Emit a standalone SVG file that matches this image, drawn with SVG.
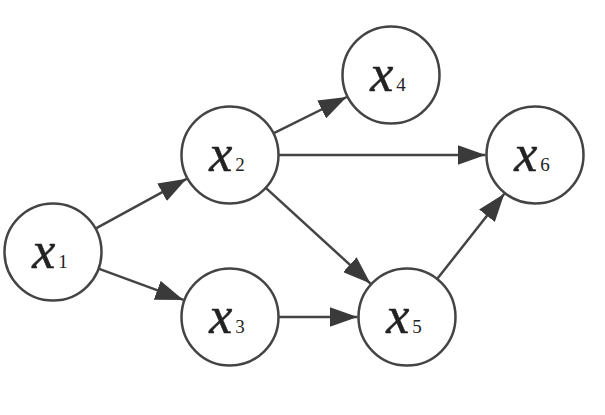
<svg xmlns="http://www.w3.org/2000/svg" width="605" height="415" viewBox="0 0 605 415">
<style>
.node circle{fill:#fff;stroke:#444;stroke-width:2.5}
.lbl{font-family:"Liberation Serif","Times New Roman",serif;fill:#222;text-anchor:middle}
.v{font-style:italic;font-size:52px;stroke:#222;stroke-width:0.5}
.s{font-size:19px}
.edge{stroke:#444;stroke-width:2.5;fill:none;marker-end:url(#arr)}
</style>
<defs>
<marker id="arr" markerUnits="userSpaceOnUse" markerWidth="28" markerHeight="20" refX="28" refY="10" orient="auto">
<path d="M0,0 L28,10 L0,20 z" fill="#3a3a3a"/>
</marker>
</defs>
<rect width="605" height="415" fill="#fff"/>
<g id="connectors">
<path class="edge" d="M95.5,228.7 L186.6,178.8"/>
<path class="edge" d="M98.5,268.7 L183.5,299.9"/>
<path class="edge" d="M273.4,133.4 L346.7,97.0"/>
<path class="edge" d="M278.5,155 L485.5,155"/>
<path class="edge" d="M265.8,187.8 L370.5,283.6"/>
<path class="edge" d="M278.5,317 L357.5,317"/>
<path class="edge" d="M437.1,279.0 L504.3,193.8"/>
</g>
<g id="x1" class="node"><circle cx="53" cy="252" r="48.5"/><text class="lbl" x="50" y="268"><tspan class="v">x</tspan><tspan class="s" dx="3">1</tspan></text></g>
<g id="x2" class="node"><circle cx="230" cy="155" r="48.5"/><text class="lbl" x="227" y="171"><tspan class="v">x</tspan><tspan class="s" dx="3">2</tspan></text></g>
<g id="x3" class="node"><circle cx="230" cy="317" r="48.5"/><text class="lbl" x="227" y="333"><tspan class="v">x</tspan><tspan class="s" dx="3">3</tspan></text></g>
<g id="x4" class="node"><circle cx="391" cy="75" r="48.5"/><text class="lbl" x="388" y="91"><tspan class="v">x</tspan><tspan class="s" dx="3">4</tspan></text></g>
<g id="x5" class="node"><circle cx="407" cy="317" r="48.5"/><text class="lbl" x="404" y="333"><tspan class="v">x</tspan><tspan class="s" dx="3">5</tspan></text></g>
<g id="x6" class="node"><circle cx="535" cy="155" r="48.5"/><text class="lbl" x="532" y="171"><tspan class="v">x</tspan><tspan class="s" dx="3">6</tspan></text></g>
</svg>
